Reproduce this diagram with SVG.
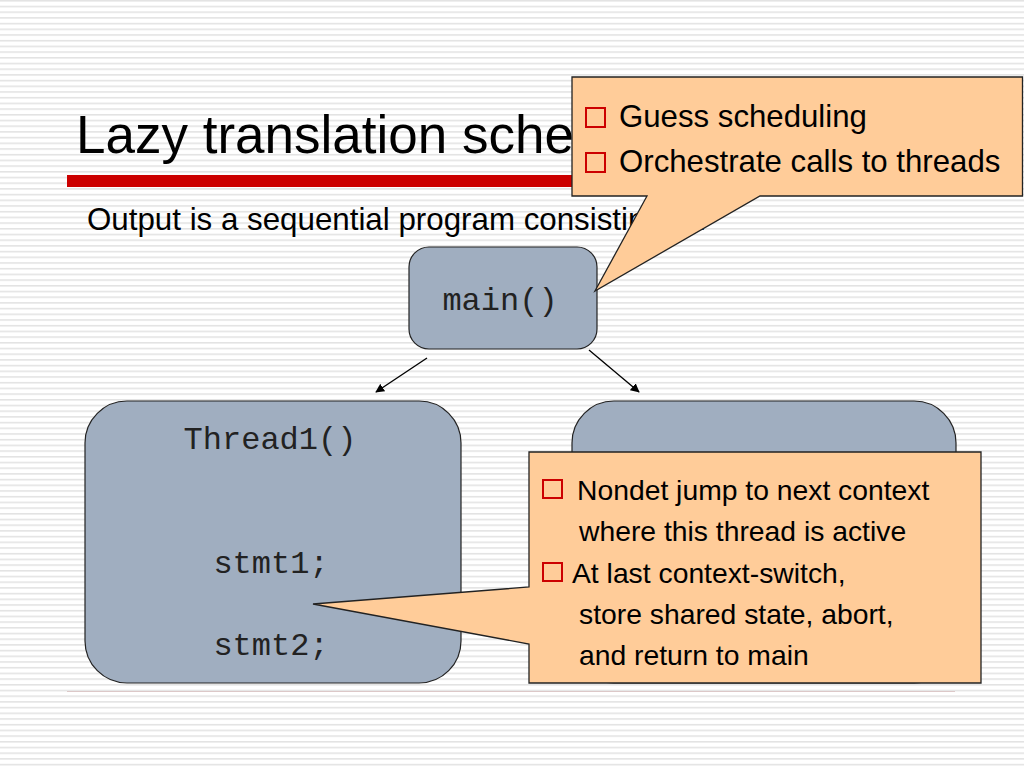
<svg xmlns="http://www.w3.org/2000/svg" width="1024" height="768" viewBox="0 0 1024 768">
<defs>
<pattern id="stripes" x="0" y="0" width="1024" height="5.7" patternUnits="userSpaceOnUse">
<rect x="0" y="0" width="1024" height="1.6" fill="#E3E3E3"/>
</pattern>
<marker id="arrow" viewBox="0 0 10 10" refX="9" refY="5" markerWidth="9" markerHeight="9" markerUnits="userSpaceOnUse" orient="auto">
<path d="M0,0 L10,5 L0,10 Z" fill="#000"/>
</marker>
</defs>
<style>
.sans{font-family:"Liberation Sans",Arial,sans-serif;fill:#000}
.mono{font-family:"Liberation Mono","Courier New",monospace;fill:#222;font-size:32px}
.box{fill:#A0AEC0;stroke:#222;stroke-width:1.2}
.callout{fill:#FFCC99;stroke:#222;stroke-width:1.3}
.bullet{fill:none;stroke:#CC0000;stroke-width:2}
.conn{stroke:#000;stroke-width:1.3;fill:none;marker-end:url(#arrow)}
</style>
<rect x="0" y="0" width="1024" height="768" fill="#FFFFFF"/>
<rect x="0" y="0" width="1024" height="768" fill="url(#stripes)"/>

<g id="title">
<text class="sans" x="76" y="153" font-size="53">Lazy translation scheme</text>
<rect x="67" y="175" width="540" height="12" fill="#CC0000"/>
</g>
<text class="sans" x="87" y="230" font-size="31.3">Output is a sequential program consisting of:</text>
<line x1="67" y1="691.5" x2="955" y2="691.5" stroke="#DCC8C8" stroke-width="1.2"/>

<g id="connectors">
<line class="conn" x1="427" y1="358" x2="376" y2="392"/>
<line class="conn" x1="589" y1="350" x2="639" y2="392"/>
</g>

<g id="node-main">
<rect class="box" x="409" y="247" width="188" height="102" rx="20" ry="20"/>
<text class="mono" x="500" y="310" text-anchor="middle">main()</text>
</g>

<g id="node-thread1">
<rect class="box" x="85" y="401" width="376" height="282" rx="42" ry="42"/>
<text class="mono" x="270" y="449" text-anchor="middle">Thread1()</text>
<text class="mono" x="271" y="573" text-anchor="middle">stmt1;</text>
<text class="mono" x="271" y="655" text-anchor="middle">stmt2;</text>
</g>

<g id="node-thread2">
<rect class="box" x="572" y="401" width="384" height="282" rx="42" ry="42"/>
</g>

<g id="callout-main">
<path class="callout" d="M572,77 H1022.5 V196 H760 L595,291 L647,196 H572 Z"/>
<rect class="bullet" x="586" y="108" width="19" height="19"/>
<text class="sans" x="619" y="127" font-size="31.2">Guess scheduling</text>
<rect class="bullet" x="586" y="153" width="19" height="19"/>
<text class="sans" x="619" y="172" font-size="31.2">Orchestrate calls to threads</text>
</g>

<g id="callout-thread">
<path class="callout" d="M529,452 H981 V683 H529 V644 L313,604 L529,587 Z"/>
<rect class="bullet" x="543" y="480" width="19" height="18"/>
<text class="sans" x="577" y="500" font-size="28.3">Nondet jump to next context</text>
<text class="sans" x="579" y="541" font-size="28.3">where this thread is active</text>
<rect class="bullet" x="543" y="563" width="19" height="18"/>
<text class="sans" x="572" y="583" font-size="28.3">At last context-switch,</text>
<text class="sans" x="579" y="624" font-size="28.3">store shared state, abort,</text>
<text class="sans" x="579" y="665" font-size="28.3">and return to main</text>
</g>
</svg>
